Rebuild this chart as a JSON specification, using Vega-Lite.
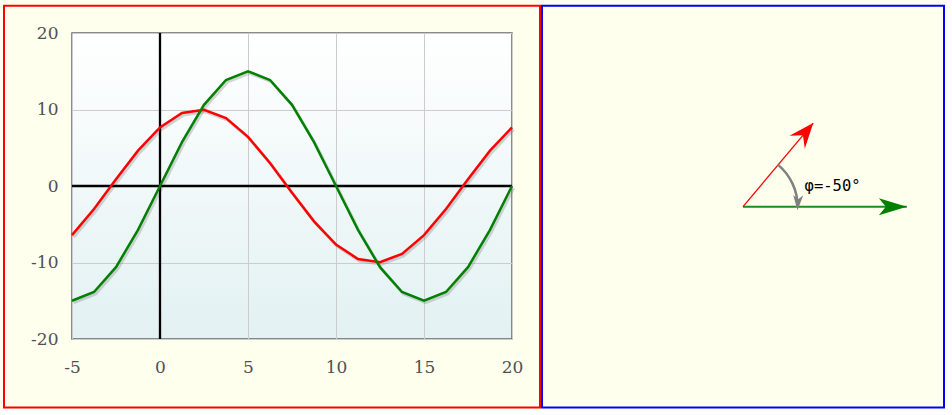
{
  "$schema": "https://vega.github.io/schema/vega-lite/v6.json",
  "background": "#ffffee",
  "padding": {"left": 2, "top": 4, "right": 0, "bottom": 0},
  "spacing": -1,
  "config": {
    "view": {"stroke": null},
    "axis": {"labelFont": "DejaVu Serif", "labelFontSize": 17, "labelColor": "#505050"}
  },
  "datasets": {
    "curves": [
      {"series": "i", "x": -5, "y": -6.428}, {"series": "i", "x": -3.75, "y": -3.007}, {"series": "i", "x": -2.5, "y": 0.872},
      {"series": "i", "x": -1.25, "y": 4.617}, {"series": "i", "x": 0, "y": 7.66}, {"series": "i", "x": 1.25, "y": 9.537},
      {"series": "i", "x": 2.5, "y": 9.962}, {"series": "i", "x": 3.75, "y": 8.87}, {"series": "i", "x": 5, "y": 6.428},
      {"series": "i", "x": 6.25, "y": 3.007}, {"series": "i", "x": 7.5, "y": -0.872}, {"series": "i", "x": 8.75, "y": -4.617},
      {"series": "i", "x": 10, "y": -7.66}, {"series": "i", "x": 11.25, "y": -9.537}, {"series": "i", "x": 12.5, "y": -9.962},
      {"series": "i", "x": 13.75, "y": -8.87}, {"series": "i", "x": 15, "y": -6.428}, {"series": "i", "x": 16.25, "y": -3.007},
      {"series": "i", "x": 17.5, "y": 0.872}, {"series": "i", "x": 18.75, "y": 4.617}, {"series": "i", "x": 20, "y": 7.66},
      {"series": "u", "x": -5, "y": -15}, {"series": "u", "x": -3.75, "y": -13.858}, {"series": "u", "x": -2.5, "y": -10.607},
      {"series": "u", "x": -1.25, "y": -5.74}, {"series": "u", "x": 0, "y": 0}, {"series": "u", "x": 1.25, "y": 5.74},
      {"series": "u", "x": 2.5, "y": 10.607}, {"series": "u", "x": 3.75, "y": 13.858}, {"series": "u", "x": 5, "y": 15},
      {"series": "u", "x": 6.25, "y": 13.858}, {"series": "u", "x": 7.5, "y": 10.607}, {"series": "u", "x": 8.75, "y": 5.74},
      {"series": "u", "x": 10, "y": 0}, {"series": "u", "x": 11.25, "y": -5.74}, {"series": "u", "x": 12.5, "y": -10.607},
      {"series": "u", "x": 13.75, "y": -13.858}, {"series": "u", "x": 15, "y": -15}, {"series": "u", "x": 16.25, "y": -13.858},
      {"series": "u", "x": 17.5, "y": -10.607}, {"series": "u", "x": 18.75, "y": -5.74}, {"series": "u", "x": 20, "y": 0}
    ],
    "frame": [{"x1": -8.864, "x2": 21.59, "y1": 23.56, "y2": -28.95}],
    "panel": [{"x1": -18.4, "x2": 18.4, "y1": 18.4, "y2": -18.4}],
    "phasors": [{"name": "U", "x0": 0, "y0": 0, "x": 15, "y": 0}, {"name": "I", "x0": 0, "y0": 0, "x": 6.428, "y": 7.66}],
    "phase": [{"from": 50, "to": 0, "r": 5, "label": "φ=-50°"}]
  },
  "hconcat": [
    {
      "width": 440,
      "height": 306,
      "view": {
        "stroke": "#666666",
        "strokeWidth": 1.5,
        "fill": {"gradient": "linear", "x1": 0, "y1": 0, "x2": 0, "y2": 1,
          "stops": [{"offset": 0, "color": "#ffffff"}, {"offset": 1, "color": "#e2f1f2"}]}
      },
      "resolve": {"scale": {"x": "independent", "y": "independent"}},
      "layer": [
        {
          "data": {"name": "curves"},
          "mark": {"type": "line", "color": "#777777", "opacity": 0.3, "strokeWidth": 3},
          "encoding": {
            "x": {"field": "x", "type": "quantitative", "scale": {"domain": [-5.09, 19.91], "nice": false, "zero": false}, "axis": null},
            "y": {"field": "y", "type": "quantitative", "scale": {"domain": [-19.74, 20.26], "nice": false, "zero": false}, "axis": null},
            "detail": {"field": "series"}
          }
        },
        {
          "data": {"name": "frame"},
          "mark": {"type": "rect", "filled": false, "color": "#ff0000", "strokeWidth": 2},
          "encoding": {
            "x": {"field": "x1", "type": "quantitative", "scale": {"domain": [-5, 20], "nice": false, "zero": false}, "axis": null},
            "x2": {"field": "x2"},
            "y": {"field": "y1", "type": "quantitative", "scale": {"domain": [-20, 20], "nice": false, "zero": false}, "axis": null},
            "y2": {"field": "y2"}
          }
        },
        {
          "data": {"name": "frame"},
          "mark": {"type": "rule", "color": "#000000", "strokeWidth": 2.3},
          "encoding": {"x": {"datum": 0, "type": "quantitative", "scale": {"domain": [-5, 20], "nice": false, "zero": false}, "axis": null}}
        },
        {
          "data": {"name": "frame"},
          "mark": {"type": "rule", "color": "#000000", "strokeWidth": 2.3},
          "encoding": {"y": {"datum": 0, "type": "quantitative", "scale": {"domain": [-20, 20], "nice": false, "zero": false}, "axis": null}}
        },
        {
          "data": {"name": "curves"},
          "mark": {"type": "line", "strokeWidth": 2.5},
          "encoding": {
            "x": {"field": "x", "type": "quantitative", "scale": {"domain": [-5, 20], "nice": false, "zero": false},
              "axis": {"orient": "bottom", "values": [-5, 0, 5, 10, 15, 20], "title": null, "ticks": false, "domain": false,
                "labelExpr": "datum.value + ''",
                "labelPadding": 20, "labelFlush": false, "labelOverlap": false, "grid": true, "gridColor": "#cccccc", "gridWidth": 1}},
            "y": {"field": "y", "type": "quantitative", "scale": {"domain": [-20, 20], "nice": false, "zero": false},
              "axis": {"orient": "left", "values": [-20, -10, 0, 10, 20], "title": null, "ticks": false, "domain": false,
                "labelExpr": "datum.value + ''",
                "labelPadding": 14, "labelOverlap": false, "grid": true, "gridColor": "#cccccc", "gridWidth": 1}},
            "color": {"field": "series", "type": "nominal", "scale": {"domain": ["i", "u"], "range": ["#ff0000", "#008000"]}, "legend": null}
          }
        }
      ]
    },
    {
      "width": 402,
      "height": 306,
      "view": {"stroke": null, "fill": null},
      "layer": [
        {
          "data": {"name": "panel"},
          "mark": {"type": "rect", "filled": false, "color": "#0000ff", "strokeWidth": 2},
          "encoding": {
            "x": {"field": "x1", "type": "quantitative", "scale": {"domain": [-18.4, 18.4], "nice": false, "zero": false}, "axis": null},
            "x2": {"field": "x2"},
            "y": {"field": "y1", "type": "quantitative", "scale": {"domain": [-12.12, 15.91], "nice": false, "zero": false}, "axis": null},
            "y2": {"field": "y2"}
          }
        },
        {
          "data": {"name": "phasors"},
          "transform": [{"filter": "datum.name === 'U'"}],
          "mark": {"type": "rule", "color": "#1e8c1e", "strokeWidth": 2},
          "encoding": {
            "x": {"field": "x0", "type": "quantitative"},
            "y": {"field": "y0", "type": "quantitative"},
            "x2": {"field": "x"},
            "y2": {"field": "y"}
          }
        },
        {
          "data": {"name": "phasors"},
          "transform": [{"filter": "datum.name === 'I'"}],
          "mark": {"type": "rule", "color": "#ff0000", "strokeWidth": 1.3},
          "encoding": {
            "x": {"field": "x0", "type": "quantitative"},
            "y": {"field": "y0", "type": "quantitative"},
            "x2": {"field": "x"},
            "y2": {"field": "y"}
          }
        },
        {
          "data": {"name": "phase"},
          "mark": {"type": "arc", "filled": false, "color": "#808080", "strokeWidth": 2.5},
          "encoding": {
            "x": {"datum": 0, "type": "quantitative"},
            "y": {"datum": 0, "type": "quantitative"},
            "theta": {"field": "from", "type": "quantitative", "scale": {"domain": [90, -270], "range": [0, 6.283185307]}, "stack": null},
            "theta2": {"field": "to"},
            "radius": {"field": "r", "type": "quantitative", "scale": {"type": "linear", "domain": [0, 18.4], "range": [0, 201], "zero": true}},
            "radius2": {"field": "r"}
          }
        },
        {
          "data": {"name": "phasors"},
          "transform": [{"filter": "datum.name === 'U'"}],
          "mark": {"type": "point", "shape": "M0,0L-2,-0.61L-1.5,0L-2,0.61Z", "size": 784, "angle": 0, "filled": true, "color": "#008000", "opacity": 1, "strokeWidth": 0},
          "encoding": {"x": {"field": "x", "type": "quantitative"}, "y": {"field": "y", "type": "quantitative"}}
        },
        {
          "data": {"name": "phasors"},
          "transform": [{"filter": "datum.name === 'I'"}],
          "mark": {"type": "point", "shape": "M0,0L-2,-0.8L-1.28,0L-2,0.8Z", "size": 625, "angle": 310, "filled": true, "color": "#ff0000", "opacity": 1, "strokeWidth": 0},
          "encoding": {"x": {"field": "x", "type": "quantitative"}, "y": {"field": "y", "type": "quantitative"}}
        },
        {
          "data": {"name": "phase"},
          "mark": {"type": "point", "shape": "M0.47,0L-1.53,-0.67L-1,0L-1.53,0.67Z", "size": 225, "angle": 93, "filled": true, "color": "#808080", "opacity": 1, "strokeWidth": 0},
          "encoding": {"x": {"field": "r", "type": "quantitative"}, "y": {"datum": 0, "type": "quantitative"}}
        },
        {
          "data": {"name": "phase"},
          "mark": {"type": "text", "align": "left", "baseline": "alphabetic", "dx": 7, "dy": -16, "font": "DejaVu Sans Mono", "fontSize": 15.5, "color": "#000000"},
          "encoding": {
            "x": {"field": "r", "type": "quantitative"},
            "y": {"datum": 0, "type": "quantitative"},
            "text": {"field": "label"}
          }
        }
      ]
    }
  ]
}
